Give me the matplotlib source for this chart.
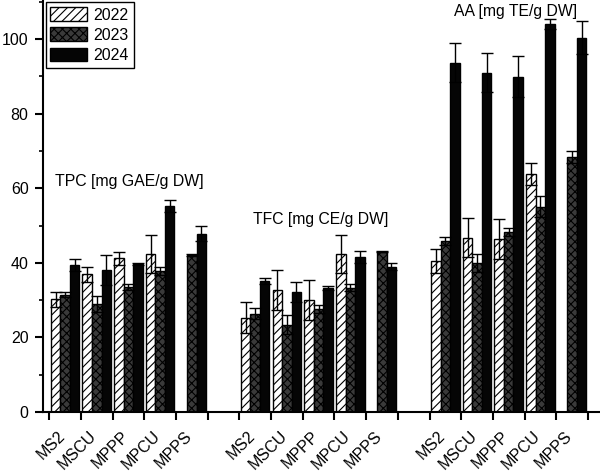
import numpy as np
import matplotlib
matplotlib.use("Agg")
import matplotlib.pyplot as plt
from matplotlib.ticker import MultipleLocator, FixedLocator
from matplotlib.transforms import ScaledTranslation

plt.rcParams["font.family"] = ["Liberation Sans", "DejaVu Sans"]
plt.rcParams["hatch.linewidth"] = 0.8

categories = ["MS2", "MSCU", "MPPP", "MPCU", "MPPS"]
years = ["2022", "2023", "2024"]
group_titles = ["TPC [mg GAE/g DW]", "TFC [mg CE/g DW]", "AA [mg TE/g DW]"]

# TPC
tpc_2022 = [30.3, 36.9, 41.2, 42.4, 0]
tpc_2022_err = [2.0, 2.0, 1.7, 5.0, 0]
tpc_2023 = [31.5, 28.9, 33.5, 37.8, 42.2]
tpc_2023_err = [0.6, 2.2, 0.9, 1.0, 0.3]
tpc_2024 = [39.5, 38.0, 39.8, 55.2, 47.8]
tpc_2024_err = [1.6, 4.0, 0.3, 1.6, 2.0]

# TFC
tfc_2022 = [25.3, 32.8, 30.0, 42.4, 0]
tfc_2022_err = [4.2, 5.4, 5.4, 5.2, 0]
tfc_2023 = [26.4, 23.4, 27.6, 33.4, 43.0]
tfc_2023_err = [1.5, 2.6, 1.0, 1.0, 0.2]
tfc_2024 = [35.2, 32.2, 33.2, 41.5, 39.0]
tfc_2024_err = [0.8, 2.7, 0.6, 1.6, 0.9]

# AA
aa_2022 = [40.5, 46.8, 46.4, 63.8, 0]
aa_2022_err = [3.3, 5.2, 5.4, 2.9, 0]
aa_2023 = [45.9, 40.0, 48.2, 55.1, 68.3]
aa_2023_err = [1.1, 2.5, 1.1, 2.9, 1.6]
aa_2024 = [93.7, 91.0, 89.9, 104.0, 100.4]
aa_2024_err = [5.3, 5.3, 5.5, 1.4, 4.4]

groups = [
    [(tpc_2022, tpc_2022_err), (tpc_2023, tpc_2023_err), (tpc_2024, tpc_2024_err)],
    [(tfc_2022, tfc_2022_err), (tfc_2023, tfc_2023_err), (tfc_2024, tfc_2024_err)],
    [(aa_2022, aa_2022_err), (aa_2023, aa_2023_err), (aa_2024, aa_2024_err)],
]

styles = [
    dict(facecolor="white", hatch="////"),
    dict(facecolor="#3a3a3a", hatch="xxxx"),
    dict(facecolor="#050505", hatch=None),
]

fig = plt.figure(figsize=(6.0, 4.72), dpi=100)
ax = fig.add_axes([0.072, 0.127, 0.928, 0.873])

width = 0.3
offsets = [0.2, 0.5, 0.8]
label_pos = []
for g, series in enumerate(groups):
    base = np.arange(len(categories)) + 6 * g
    label_pos.extend(base + 0.5)
    for k, (vals, errs) in enumerate(series):
        x = base + offsets[k]
        ax.bar(x, vals, width=width, edgecolor="black", linewidth=1.0,
               label=years[k] if g == 0 else None, **styles[k])
        vals = np.array(vals)
        errs = np.array(errs)
        m = vals > 0
        ax.errorbar(x[m], vals[m], yerr=errs[m], fmt="none", ecolor="black",
                    elinewidth=1.0, capsize=4, capthick=1.0)

ax.text(0.19, 61.7, group_titles[0], fontsize=11.4, ha="left", va="center")
ax.text(6.44, 51.7, group_titles[1], fontsize=11.3, ha="left", va="center")
ax.text(12.78, 107.5, group_titles[2], fontsize=11.3, ha="left", va="center")

ax.set_xlim(-0.19, 17.38)
ax.set_ylim(0, 110.5)

ax.xaxis.set_major_locator(MultipleLocator(1))
ax.xaxis.set_minor_locator(FixedLocator(label_pos))
ax.set_xticklabels([], minor=False)
ax.set_xticklabels(categories * 3, minor=True, rotation=45, ha="right",
                   fontsize=11.5)
ax.tick_params(axis="x", which="major", direction="out", length=6, width=1.5)
ax.tick_params(axis="x", which="minor", length=0, pad=11.5)
shift = ScaledTranslation(3 / 100, 0, fig.dpi_scale_trans)
for lbl in ax.get_xticklabels(minor=True):
    lbl.set_transform(lbl.get_transform() + shift)

ax.yaxis.set_major_locator(MultipleLocator(20))
ax.yaxis.set_minor_locator(MultipleLocator(10))
ax.tick_params(axis="y", which="major", direction="out", length=6, width=1.5,
               labelsize=11.5, pad=4.5)
ax.tick_params(axis="y", which="minor", direction="out", length=3, width=1.2)

for s in ["top", "right"]:
    ax.spines[s].set_visible(False)
for s in ["left", "bottom"]:
    ax.spines[s].set_linewidth(1.5)

leg = ax.legend(loc="upper left", bbox_to_anchor=(0.0, 1.0), borderaxespad=0.15,
                fontsize=11.5, fancybox=False, edgecolor="black", framealpha=1,
                handlelength=2.3, handleheight=0.95, labelspacing=0.3,
                handletextpad=0.4, borderpad=0.3)
leg.get_frame().set_linewidth(1.0)

fig.savefig("out.png", dpi=100)
